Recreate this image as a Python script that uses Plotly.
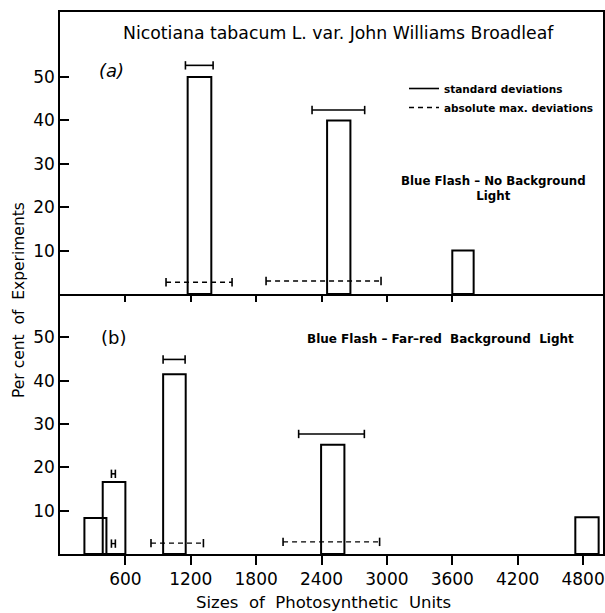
import plotly.graph_objects as go

# ---------------- data ----------------
# panel (a): Blue flash, no background light
a_centres = [1280, 2558, 3698]
a_widths = [217, 214, 196]
a_values = [50, 40, 10]
a_sd_lo = [1151, 2313]
a_sd_hi = [1405, 2796]
a_sd_level = [52.7, 42.4]
a_max_lo = [973, 1891]
a_max_hi = [1579, 2946]
a_max_level = [2.7, 3.0]

# panel (b): Blue flash, far-red background light
b_centres = [325, 496, 1050, 2503, 4836]
b_widths = [202, 208, 207, 214, 214]
b_values = [8.3, 16.6, 41.5, 25.2, 8.5]
b_sd_lo = [472, 946, 2190]
b_sd_hi = [508, 1148, 2793]
b_sd_level = [18.5, 44.9, 27.7]
b_max_lo = [472, 835, 2047]
b_max_hi = [508, 1316, 2933]
b_max_level = [2.4, 2.5, 2.8]

x_ticks = [600, 1200, 1800, 2400, 3000, 3600, 4200, 4800]
x_ticks_mid = [600, 1200, 1800, 2400, 3000, 3600]
y_ticks = [10, 20, 30, 40, 50]

# ---------------- layout geometry ----------------
W, H = 605, 613
ML, MR, MT, MB = 60, 2, 12, 59
PW, PH = W - ML - MR, H - MT - MB
SPLIT = 260 / PH  # bottom panel fraction


def px(xpix):
    return (xpix - ML) / PW


def py(ypix):
    return (H - MB - ypix) / PH


FONT = "DejaVu Sans"
fig = go.Figure()


def add_panel(xa, ya, centres, widths, values, sd_lo, sd_hi, sd_lvl,
              mx_lo, mx_hi, mx_lvl, legend):
    fig.add_trace(go.Bar(x=centres, y=values, width=widths, xaxis=xa, yaxis=ya,
                         marker=dict(color="rgba(0,0,0,0)",
                                     line=dict(color="black", width=2)),
                         showlegend=False, hoverinfo="skip"))
    cap = dict(symbol="line-ns-open", size=6, color="black",
               line=dict(color="black", width=1.6))
    for i in range(len(sd_lo)):
        fig.add_trace(go.Scatter(x=[sd_lo[i], sd_hi[i]], y=[sd_lvl[i], sd_lvl[i]],
                                 mode="lines", xaxis=xa, yaxis=ya,
                                 line=dict(color="black", width=1.6),
                                 name="standard deviations",
                                 showlegend=(legend and i == 0)))
        fig.add_trace(go.Scatter(x=[sd_lo[i], sd_hi[i]], y=[sd_lvl[i], sd_lvl[i]],
                                 mode="markers", xaxis=xa, yaxis=ya,
                                 marker=cap, showlegend=False))
    for i in range(len(mx_lo)):
        fig.add_trace(go.Scatter(x=[mx_lo[i], mx_hi[i]], y=[mx_lvl[i], mx_lvl[i]],
                                 mode="lines", xaxis=xa, yaxis=ya,
                                 line=dict(color="black", width=1.4, dash="5px,4px"),
                                 name="absolute max. deviations",
                                 showlegend=(legend and i == 0)))
        fig.add_trace(go.Scatter(x=[mx_lo[i], mx_hi[i]], y=[mx_lvl[i], mx_lvl[i]],
                                 mode="markers", xaxis=xa, yaxis=ya,
                                 marker=cap, showlegend=False))


add_panel("x", "y", a_centres, a_widths, a_values, a_sd_lo, a_sd_hi, a_sd_level,
          a_max_lo, a_max_hi, a_max_level, True)
add_panel("x2", "y2", b_centres, b_widths, b_values, b_sd_lo, b_sd_hi, b_sd_level,
          b_max_lo, b_max_hi, b_max_level, False)

axis_common = dict(showline=True, linecolor="black", linewidth=1.6, mirror=True,
                   showgrid=False, zeroline=False, tickcolor="black", tickwidth=1.6,
                   automargin=False)

tickfont = dict(family=FONT, size=17, color="black")
fig.update_layout(
    width=W, height=H,
    margin=dict(l=ML, r=MR, t=MT, b=MB, autoexpand=False),
    paper_bgcolor="white", plot_bgcolor="white",
    barmode="overlay",
    xaxis=dict(axis_common, domain=[0, 1], range=[0, 4983], anchor="y",
               tickmode="array", tickvals=x_ticks_mid, ticks="outside", ticklen=6,
               showticklabels=False),
    yaxis=dict(axis_common, domain=[SPLIT, 1], range=[0, 65], anchor="x",
               tickmode="array", tickvals=y_ticks, ticks="inside", ticklen=9,
               tickfont=tickfont),
    xaxis2=dict(axis_common, domain=[0, 1], range=[0, 4983], anchor="y2",
                mirror=False,
                tickmode="array", tickvals=x_ticks, ticks="outside", ticklen=9,
                tickfont=tickfont),
    yaxis2=dict(axis_common, domain=[0, SPLIT], range=[0, 60], anchor="x2",
                tickmode="array", tickvals=y_ticks, ticks="inside", ticklen=9,
                tickfont=tickfont),
    legend=dict(x=px(404), y=py(74), xanchor="left", yanchor="top",
                bgcolor="rgba(0,0,0,0)", borderwidth=0,
                tracegroupgap=0,
                font=dict(family=FONT, size=10.5, color="black", weight="bold")),
)

ann = [
    dict(text="Nicotiana tabacum L. var. John Williams Broadleaf", x=px(338), y=py(33),
         font=dict(family=FONT, size=17.3)),
    dict(text="<i>(a)</i>", x=px(111), y=py(71), font=dict(family=FONT, size=18)),
    dict(text="(b)", x=px(113), y=py(337), font=dict(family=FONT, size=18)),
    dict(text="Blue Flash \u2013 No Background<br>Light", x=px(493), y=py(188),
         font=dict(family=FONT, size=11.8, weight="bold")),
    dict(text="Blue Flash \u2013 Far\u2013red  Background  Light", x=px(440), y=py(339),
         font=dict(family=FONT, size=12, weight="bold")),
    dict(text="Per cent  of  Experiments", x=px(19), y=py(300), textangle=-90,
         font=dict(family=FONT, size=15.5)),
    dict(text="Sizes  of  Photosynthetic  Units", x=px(323), y=py(602),
         font=dict(family=FONT, size=16.5)),
]
for a in ann:
    a.update(xref="paper", yref="paper", showarrow=False, xanchor="center",
             yanchor="middle")
    a["font"].setdefault("color", "black")
    fig.add_annotation(**a)

fig.write_html("out.html")
